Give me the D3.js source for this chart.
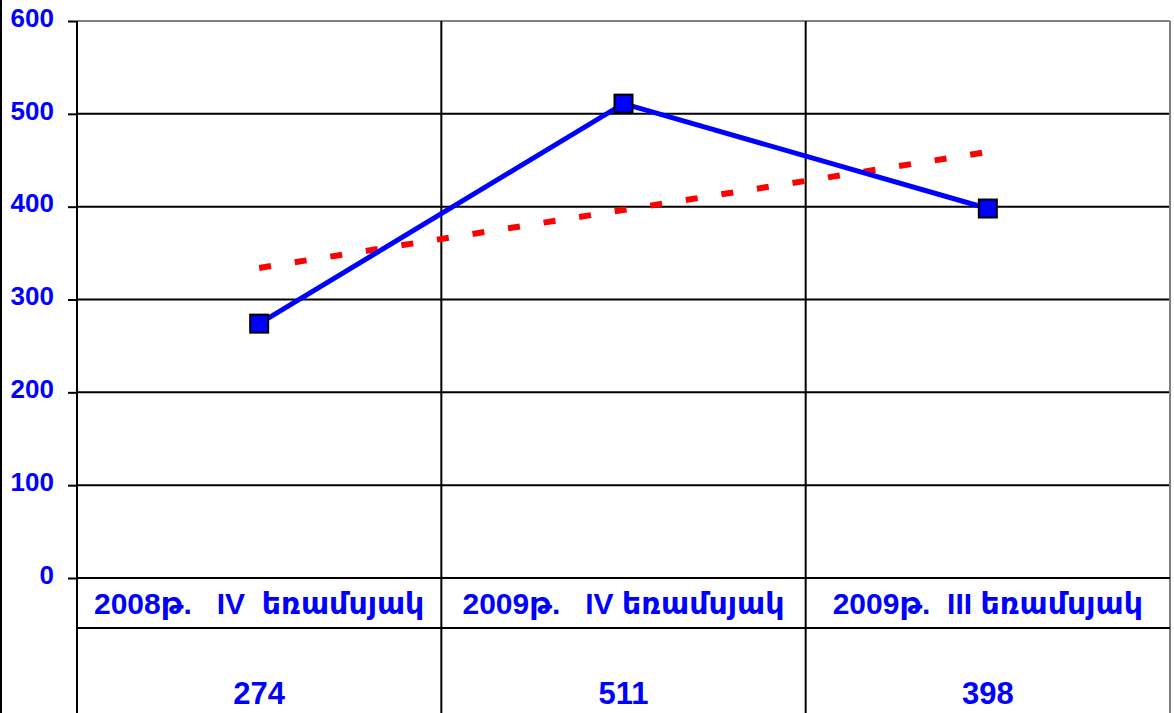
<!DOCTYPE html>
<meta charset="utf-8">
<style>
body { margin: 0; background: #fff; }
svg { display: block; }
.tick text, .lbl {
  font-family: Arial, "Liberation Sans", "DejaVu Sans", sans-serif;
  font-weight: bold;
  fill: #0000ff;
}
</style>
<body>
<script src="https://d3js.org/d3.v7.min.js"></script>
<script>

// data
var categories = ["2008թ.   IV  եռամսյակ", "2009թ.   IV եռամսյակ", "2009թ.  III եռամսյակ"];
var values = [274, 511, 398];
var trendEnds = [334, 459];   // linear trendline, first and last category
var yTicks = [0, 100, 200, 300, 400, 500, 600];

var width = 1174, height = 713;
var margin = {top: 21, right: 4, bottom: 135, left: 77};
var rowSplit = 628;   // line between label row and value row

var svg = d3.select("body").append("svg")
    .attr("width", width)
    .attr("height", height);

var x = d3.scaleBand()
    .domain(categories)
    .range([margin.left, width - margin.right]);

var y = d3.scaleLinear()
    .domain([0, 600])
    .range([height - margin.bottom, margin.top]);

// outer chart border on the left
svg.append("line")
    .attr("x1", 1).attr("x2", 1)
    .attr("y1", 0).attr("y2", height)
    .attr("stroke", "#000").attr("stroke-width", 2);

// horizontal gridlines
svg.append("g")
  .selectAll("line")
  .data(yTicks.slice(1, -1))
  .enter().append("line")
    .attr("x1", margin.left).attr("x2", width - margin.right)
    .attr("y1", d => y(d)).attr("y2", d => y(d))
    .attr("stroke", "#000").attr("stroke-width", 2);

// top of plot area
svg.append("line")
    .attr("x1", margin.left).attr("x2", width - margin.right)
    .attr("y1", y(600)).attr("y2", y(600))
    .attr("stroke", "#808080").attr("stroke-width", 2);

// category separators run down through the data table
var bounds = categories.map(c => x(c)).concat([x.range()[1]]);
svg.append("g")
  .selectAll("line")
  .data(bounds)
  .enter().append("line")
    .attr("x1", d => d).attr("x2", d => d)
    .attr("y1", margin.top).attr("y2", height)
    .attr("stroke", (d, i) => i == bounds.length - 1 ? "#808080" : "#000")
    .attr("stroke-width", 2);

// table rows
svg.append("line")
    .attr("x1", margin.left).attr("x2", width - margin.right)
    .attr("y1", y(0)).attr("y2", y(0))
    .attr("stroke", "#000").attr("stroke-width", 2);
svg.append("line")
    .attr("x1", margin.left).attr("x2", width - margin.right)
    .attr("y1", rowSplit).attr("y2", rowSplit)
    .attr("stroke", "#000").attr("stroke-width", 2);

// y axis
var yAxis = svg.append("g")
    .attr("transform", "translate(" + margin.left + ",0)")
    .call(d3.axisLeft(y).tickValues(yTicks).tickSize(9).tickPadding(14));
yAxis.select(".domain").remove();
yAxis.selectAll(".tick line").attr("stroke", "#000").attr("stroke-width", 2);
yAxis.selectAll(".tick text").style("font-size", "26px").attr("dy", "0.2em");
yAxis.append("line")
    .attr("x1", 0).attr("x2", 0)
    .attr("y1", margin.top).attr("y2", height)
    .attr("stroke", "#000").attr("stroke-width", 2);

// trendline
var cx = d => x(d) + x.bandwidth() / 2;
svg.append("line")
    .attr("x1", cx(categories[0])).attr("y1", y(trendEnds[0]))
    .attr("x2", cx(categories[categories.length - 1])).attr("y2", y(trendEnds[1]))
    .attr("stroke", "#ff0000").attr("stroke-width", 6)
    .attr("stroke-dasharray", "12,24");

// series line
var line = d3.line()
    .x((d, i) => cx(categories[i]))
    .y(d => y(d));
svg.append("path")
    .datum(values)
    .attr("d", line)
    .attr("fill", "none")
    .attr("stroke", "#0000ff")
    .attr("stroke-width", 5);

var ms = 18;
svg.append("g")
  .selectAll("rect")
  .data(values)
  .enter().append("rect")
    .attr("x", (d, i) => cx(categories[i]) - ms / 2)
    .attr("y", d => y(d) - ms / 2)
    .attr("width", ms).attr("height", ms)
    .attr("fill", "#0000ff")
    .attr("stroke", "#000").attr("stroke-width", 2);

// table text
svg.append("g")
  .selectAll("text")
  .data(categories)
  .enter().append("text")
    .attr("class", "lbl")
    .attr("x", d => cx(d))
    .attr("y", 614)
    .attr("text-anchor", "middle")
    .style("font-size", "30px")
    .style("white-space", "pre")
    .text(d => d);

svg.append("g")
  .selectAll("text")
  .data(values)
  .enter().append("text")
    .attr("class", "lbl")
    .attr("x", (d, i) => cx(categories[i]))
    .attr("y", 704)
    .attr("text-anchor", "middle")
    .style("font-size", "31px")
    .text(d => d);

</script>
